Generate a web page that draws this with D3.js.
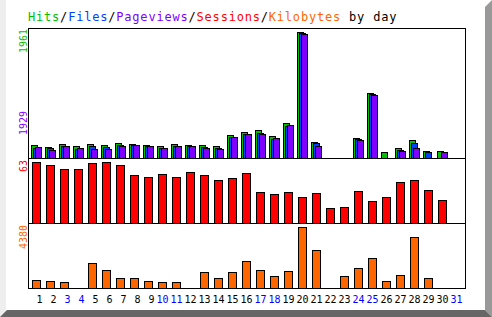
<!DOCTYPE html>
<html>
<head>
<meta charset="utf-8">
<script src="https://cdn.jsdelivr.net/npm/d3@7"></script>
<style>
  body { margin: 0; background: #fff; }
  text { font-family: "DejaVu Sans Mono", "Liberation Mono", monospace; }
</style>
</head>
<body>
<div id="chart-area"></div>
<script>
/*
*    daily usage graph
*/

var days = ["1","2","3","4","5","6","7","8","9","10","11","12","13","14","15","16",
	"17","18","19","20","21","22","23","24","25","26","27","28","29","30","31"];
var weekendDays = ["3","4","10","11","17","18","24","25","31"];

var hits      = [202,166,218,182,218,202,233,218,202,187,218,202,202,187,358,400,431,338,540,1961,244,0,0,307,1007,89,151,275,104,104,0];
var files     = [160,151,180,145,187,166,202,200,180,150,180,180,166,151,325,380,384,300,500,1940,229,0,0,296,996,0,120,229,89,0,0];
var pageviews = [166,124,187,151,140,140,187,207,187,156,187,187,151,135,331,366,369,307,509,1929,182,0,0,275,976,0,104,151,0,89,0];
var sessions  = [63,60,56,56,62,63,60,50,48,51,47,53,50,44,46,52,32,30,32,27,31,15,17,33,23,27,42,44,34,24,0];
var kbytes    = [555,483,411,0,1782,1277,700,700,483,411,411,0,1133,700,1133,1927,1277,844,1205,4380,2720,0,844,1421,2143,483,916,3658,700,0,0];

var maxHits = 1961, maxPages = 1929, maxSessions = 63, maxKbytes = 4380;

var colors = {hits: "#00c000", files: "#0040ff", pages: "#8000ff", sessions: "#ff0000", kbytes: "#ff6600"};

var W = 492, H = 317;
var left = 28.5, right = 465.5;

var svg = d3.select("#chart-area")
.append("svg")
	.attr("width", W)
	.attr("height", H);

// bevel
svg.append("rect")
	.attr("x", 0).attr("y", 0)
	.attr("width", 6).attr("height", H)
	.attr("fill", "#eeeeee");
svg.append("polygon")
	.attr("points", "485,7 492,0 492,317 485,310")
	.attr("fill", "#999999");
svg.append("polygon")
	.attr("points", "0,317 7,310 485,310 492,317")
	.attr("fill", "#666666");

// title
var title = svg.append("text")
	.attr("x", 28)
	.attr("y", 21)
	.attr("font-size", "12px")
	.attr("letter-spacing", "0.8px");
[["Hits", colors.hits], ["/", "#000"], ["Files", colors.files], ["/", "#000"],
 ["Pageviews", colors.pages], ["/", "#000"], ["Sessions", colors.sessions], ["/", "#000"],
 ["Kilobytes", colors.kbytes], [" by day", "#000"]].forEach(function(p){
	title.append("tspan").attr("fill", p[1]).style("white-space", "pre").text(p[0]);
});

// X scale
var x = d3.scaleBand()
	.domain(days)
	.range([29.5, 463.5]);
function cx(d){ return x(d) + x.bandwidth() / 2; }

// Y scales
var yTop = d3.scaleLinear().domain([0, maxHits]).range([158.5, 32.5]);
var yMid = d3.scaleLinear().domain([0, maxSessions]).range([223.5, 162.5]);
var yBot = d3.scaleLinear().domain([0, maxKbytes]).range([288.5, 227.5]);

function bars(values, y, base, offset, width, color){
	var rows = days.map(function(d, i){ return {day: d, v: values[i]}; })
		.filter(function(r){ return Math.round(base - y(r.v)) > 0; });
	svg.append("g").selectAll("rect")
		.data(rows)
		.enter()
		.append("rect")
			.attr("x", function(r){ return cx(r.day) + offset; })
			.attr("y", function(r){ return Math.round(y(r.v) - 0.5) + 0.5; })
			.attr("width", width)
			.attr("height", function(r){ return base - (Math.round(y(r.v) - 0.5) + 0.5); })
			.attr("fill", color)
			.attr("stroke", "#000")
			.attr("stroke-width", 1);
}

bars(hits, yTop, 158.5, -5, 6, colors.hits);
bars(files, yTop, 158.5, -3, 6, colors.files);
bars(pageviews, yTop, 158.5, -1, 6, colors.pages);
bars(sessions, yMid, 223.5, -4, 8, colors.sessions);
bars(kbytes, yBot, 288.5, -4, 8, colors.kbytes);

// frames
[[28.5, 158.5], [158.5, 223.5], [223.5, 288.5]].forEach(function(b){
	svg.append("rect")
		.attr("x", left)
		.attr("y", b[0])
		.attr("width", right - left)
		.attr("height", b[1] - b[0])
		.attr("fill", "none")
		.attr("stroke", "#000");
});

// max labels
[["" + maxHits, colors.hits, 29], ["" + maxPages, colors.pages, 111],
 ["" + maxSessions, colors.sessions, 160], ["" + maxKbytes, colors.kbytes, 225]].forEach(function(l){
	svg.append("text")
		.attr("transform", "translate(26.5," + l[2] + ") rotate(-90)")
		.attr("text-anchor", "end")
		.attr("font-size", "10px")
		.attr("fill", l[1])
		.text(l[0]);
});

// day labels
svg.append("g").selectAll("text")
	.data(days)
	.enter()
	.append("text")
		.attr("x", function(d){ return cx(d) + 6; })
		.attr("y", 302.5)
		.attr("text-anchor", "end")
		.attr("font-size", "10px")
		.attr("fill", function(d){ return weekendDays.indexOf(d) >= 0 ? "#0000ff" : "#000"; })
		.text(function(d){ return d; });
</script>
</body>
</html>
